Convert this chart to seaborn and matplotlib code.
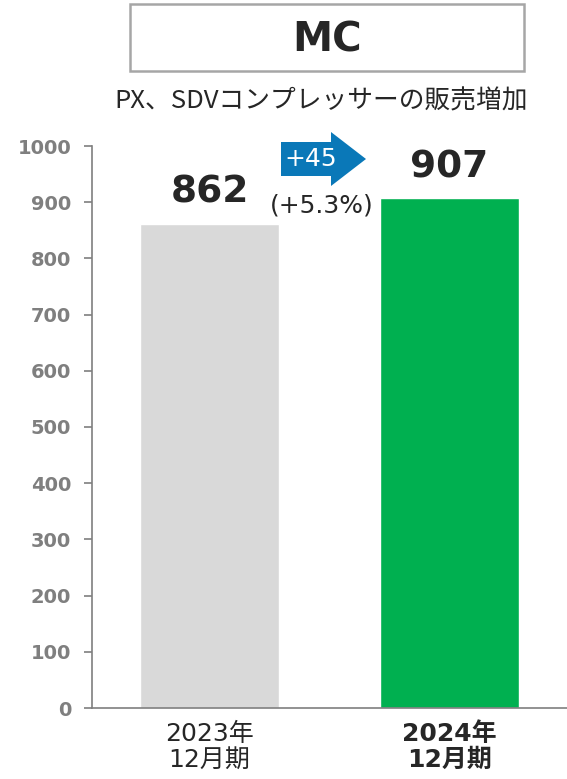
import matplotlib
matplotlib.use("Agg")
import matplotlib.pyplot as plt
import matplotlib.patches as mpatches
import seaborn as sns
import pandas as pd

# data
periods = ["2023年\n12月期", "2024年\n12月期"]
sales = [862, 907]
bar_colors = ["#D9D9D9", "#00B050"]
diff_label = "+45"
pct_label = "(+5.3%)"
title = "MC"
subtitle = "PX、SDVコンプレッサーの販売増加"
yticks = [0, 100, 200, 300, 400, 500, 600, 700, 800, 900, 1000]

sns.set_theme(style="white")
plt.rcParams["font.family"] = ["DejaVu Sans", "Noto Sans CJK JP"]

W, H = 567, 779
fig = plt.figure(figsize=(W / 100, H / 100), dpi=100)
ax = fig.add_axes([92 / W, 1 - 708 / H, 1 - 92 / W, (708 - 146) / H])

df = pd.DataFrame({"period": periods, "sales": sales})
sns.barplot(data=df, x="period", y="sales", hue="period", palette=bar_colors,
            width=0.583, legend=False, ax=ax, saturation=1)

ax.set_xlim(-0.49, 1.49)
ax.set_ylim(0, 1000)
ax.set_yticks(yticks)
ax.set_xlabel("")
ax.set_ylabel("")

grey = "#7F7F7F"
for s in ["top", "right"]:
    ax.spines[s].set_visible(False)
for s in ["left", "bottom"]:
    ax.spines[s].set_color(grey)
    ax.spines[s].set_linewidth(1.2)
ax.tick_params(axis="y", which="both", left=True, length=6, width=1.2, color=grey,
               labelcolor=grey, labelsize=14, pad=9)
ax.tick_params(axis="x", length=0, labelsize=18, labelcolor="#262626", pad=10)
for lbl in ax.get_yticklabels():
    lbl.set_fontweight("bold")
xl = ax.get_xticklabels()
xl[1].set_fontweight("bold")
for lbl in xl:
    lbl.set_linespacing(1.1)

# value labels
for i, v in enumerate(sales):
    ax.text(i, v + 55, f"{v}", ha="center", va="center", fontsize=27,
            fontweight="bold", color="#262626")

# title box
fig.patches.append(mpatches.Rectangle((130 / W, 1 - 71 / H), (524 - 130) / W, (71 - 4) / H,
                                      transform=fig.transFigure, fill=False,
                                      edgecolor="#A6A6A6", linewidth=1.8))
fig.text(327 / W, 1 - 40 / H, title, ha="center", va="center", fontsize=29,
         fontweight="bold", color="#262626")
fig.text(321 / W, 1 - 101 / H, subtitle, ha="center", va="center", fontsize=18.5,
         color="#262626", family=["Noto Sans CJK JP", "DejaVu Sans"])

# change arrow
pts = [(281, 142), (331, 142), (331, 132), (366, 159), (331, 186), (331, 176), (281, 176)]
fig.patches.append(mpatches.Polygon([(x / W, 1 - y / H) for x, y in pts], closed=True,
                                    transform=fig.transFigure, facecolor="#0A78B8",
                                    edgecolor="none"))
fig.text(311 / W, 1 - 159 / H, diff_label, ha="center", va="center", fontsize=18,
         color="white")
fig.text(322 / W, 1 - 205 / H, pct_label, ha="center", va="center", fontsize=18,
         color="#262626")

fig.savefig("out.png", dpi=100)
